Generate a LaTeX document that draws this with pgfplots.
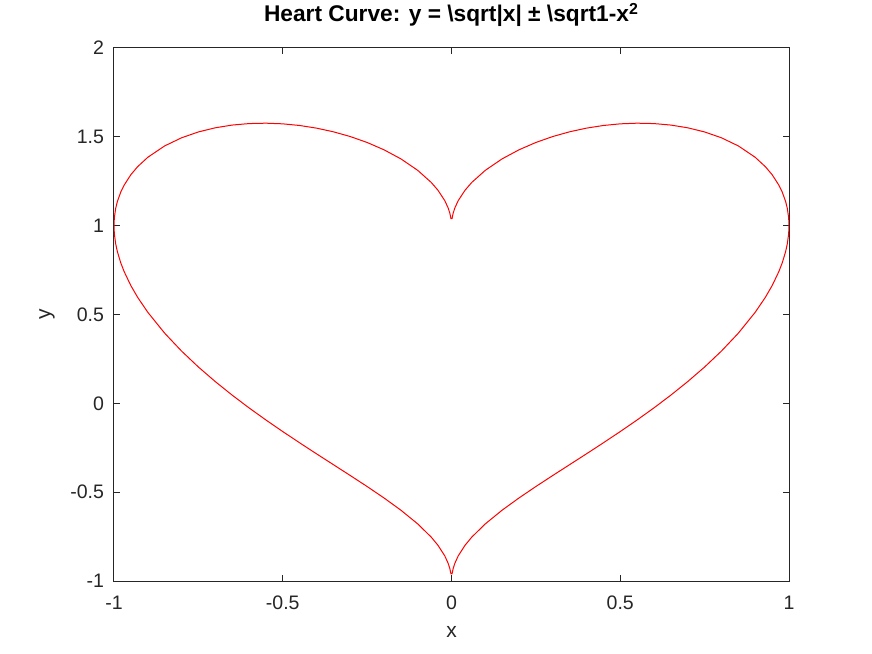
\documentclass[border=0pt]{standalone}
\usepackage{pgfplots}
\pgfplotsset{compat=1.18}
\usepackage{fontspec}
\setmainfont{Liberation Sans}
\definecolor{axgray}{RGB}{38,38,38}
\begin{document}
\begin{tikzpicture}
\path[use as bounding box, fill=white] (-57bp,-36.5bp) rectangle (379bp,290.5bp);
\begin{axis}[
  at={(0,0)}, anchor=south west,
  scale only axis, width=337.5bp, height=266.5bp,
  xmin=-1, xmax=1, ymin=-1, ymax=2,
  xtick={-1,-0.5,0,0.5,1},
  ytick={-1,-0.5,0,0.5,1,1.5,2},
  xticklabels={-1,-0.5,0,0.5,1},
  yticklabels={-1,-0.5,0,0.5,1,1.5,2},
  tick align=inside, major tick length=3bp,
  axis line style={axgray, line width=0.5bp},
  every tick/.style={axgray, line width=0.5bp},
  ticklabel style={font=\fontsize{9.8}{11}\selectfont, text=axgray},
  xticklabel style={yshift=-4bp},
  yticklabel style={xshift=-1.5bp},
  title={Heart Curve: y = \textbackslash sqrt|x| ± \textbackslash sqrt1-x\textsuperscript{2}},
  title style={font=\bfseries\fontsize{11.4}{13}\selectfont, yshift=1bp},
  xlabel={x}, ylabel={y},
  label style={font=\fontsize{10.5}{12}\selectfont, text=axgray},
  xlabel style={at={(axis description cs:0.5,-0.0957)}, anchor=center},
  ylabel style={at={(axis description cs:-0.0993,0.5)}, anchor=center},
]
\addplot[red, line width=0.5bp] coordinates {
(-1.0,1.0) (-0.999,1.04421) (-0.995,1.09737) (-0.99,1.13606) (-0.98,1.18895) (-0.97,1.22799)
(-0.95,1.28693) (-0.93,1.33193) (-0.9,1.38457) (-0.85,1.44873) (-0.8,1.49443) (-0.75,1.52747)
(-0.7,1.55080) (-0.65,1.56616) (-0.6,1.57460) (-0.55,1.57678) (-0.5,1.57314) (-0.45,1.56385)
(-0.4,1.54898) (-0.35,1.52836) (-0.3,1.50166) (-0.25,1.46825) (-0.2,1.42701) (-0.15,1.37599)
(-0.1,1.31122) (-0.06,1.24315) (-0.04,1.19920) (-0.02,1.14122) (-0.01,1.09995) (-0.005,1.07070)
(-0.0016,1.04)
(0.0016,1.04)
(0.005,1.07070) (0.01,1.09995) (0.02,1.14122) (0.04,1.19920) (0.06,1.24315) (0.1,1.31122)
(0.15,1.37599) (0.2,1.42701) (0.25,1.46825) (0.3,1.50166) (0.35,1.52836) (0.4,1.54898)
(0.45,1.56385) (0.5,1.57314) (0.55,1.57678) (0.6,1.57460) (0.65,1.56616) (0.7,1.55080)
(0.75,1.52747) (0.8,1.49443) (0.85,1.44873) (0.9,1.38457) (0.93,1.33193) (0.95,1.28693)
(0.97,1.22799) (0.98,1.18895) (0.99,1.13606) (0.995,1.09737) (0.999,1.04421) (1.0,1.0)
(0.999,0.95479) (0.995,0.89763) (0.99,0.85392) (0.98,0.79095) (0.97,0.74179) (0.95,0.66243)
(0.93,0.59681) (0.9,0.51279) (0.85,0.39517) (0.8,0.29443) (0.75,0.20459) (0.7,0.12252)
(0.65,0.04630) (0.6,-0.02540) (0.55,-0.09354) (0.5,-0.15892) (0.45,-0.22221) (0.4,-0.28406)
(0.35,-0.34514) (0.3,-0.40622) (0.25,-0.46825) (0.2,-0.53259) (0.15,-0.60139) (0.1,-0.67876)
(0.06,-0.75325) (0.04,-0.79920) (0.02,-0.85838) (0.01,-0.89995) (0.005,-0.92928) (0.0016,-0.96)
(-0.0016,-0.96)
(-0.005,-0.92928) (-0.01,-0.89995) (-0.02,-0.85838) (-0.04,-0.79920) (-0.06,-0.75325)
(-0.1,-0.67876) (-0.15,-0.60139) (-0.2,-0.53259) (-0.25,-0.46825) (-0.3,-0.40622) (-0.35,-0.34514)
(-0.4,-0.28406) (-0.45,-0.22221) (-0.5,-0.15892) (-0.55,-0.09354) (-0.6,-0.02540) (-0.65,0.04630)
(-0.7,0.12252) (-0.75,0.20459) (-0.8,0.29443) (-0.85,0.39517) (-0.9,0.51279) (-0.93,0.59681)
(-0.95,0.66243) (-0.97,0.74179) (-0.98,0.79095) (-0.99,0.85392) (-0.995,0.89763) (-0.999,0.95479)
(-1.0,1.0)
};
\end{axis}
\end{tikzpicture}
\end{document}
